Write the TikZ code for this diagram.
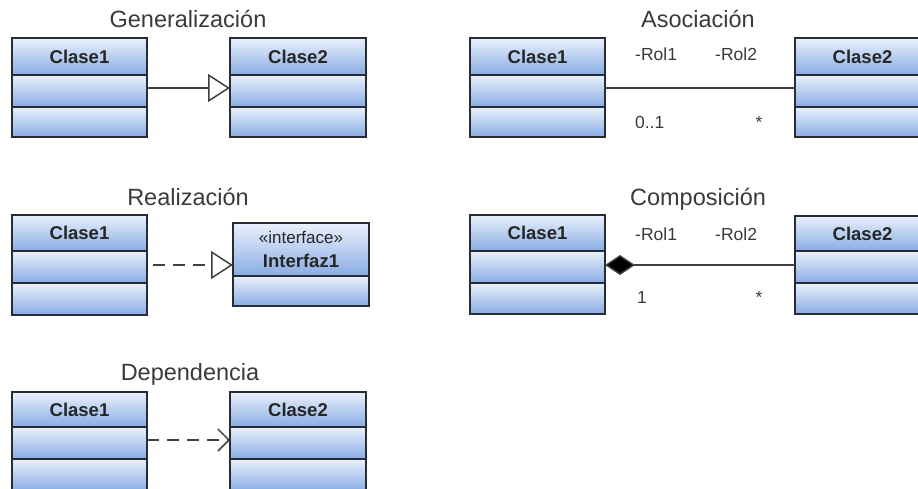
\documentclass[tikz,border=0pt]{standalone}
\usepackage{fontspec}
\setmainfont{Liberation Sans}
\usetikzlibrary{arrows.meta}

\definecolor{boxtop}{RGB}{234,241,252}
\definecolor{boxbot}{RGB}{136,172,228}
\definecolor{boxline}{RGB}{40,44,52}
\definecolor{conline}{RGB}{64,64,64}
\definecolor{txtgray}{RGB}{58,58,58}

\tikzset{
  compart/.style={draw=boxline, line width=1.3pt, top color=boxtop, bottom color=boxbot,
    inner sep=0pt, outer sep=0pt, text=black!85,
    font=\bfseries\fontsize{18.5}{20}\selectfont},
  heading/.style={anchor=base, text=txtgray, font=\fontsize{23.5}{26}\selectfont},
  endlabel/.style={anchor=base west, inner sep=0pt, text=txtgray, font=\fontsize{17.5}{20}\selectfont},
  connector/.style={draw=conline, line width=1.5pt},
  dashconn/.style={connector, dash pattern=on 12pt off 8pt},
  inherit/.style={-{Triangle[length=22pt, width=28pt, fill=white]}},
  depend/.style={-{Straight Barb[length=11pt, width=22pt]}},
  compose/.style={{Diamond[length=30pt, width=20pt, fill=black]}-},
}

% class box with three compartments: name, x, y, width, h1, h2, h3, title
\newcommand\classbox[8]{%
  \node[compart, anchor=north west, minimum width=#4pt, minimum height=#5pt] (#1a) at (#2,#3) {#8};
  \node[compart, anchor=north, minimum width=#4pt, minimum height=#6pt] (#1b) at (#1a.south) {};
  \node[compart, anchor=north, minimum width=#4pt, minimum height=#7pt] (#1c) at (#1b.south) {};
}

\begin{document}
\begin{tikzpicture}[x=1pt, y=-1pt]
\useasboundingbox (0,0) rectangle (918,488);
\clip (0,0) rectangle (918,488);

% Generalization
\node[heading] (tgen) at (188,27) {Generalización};
\classbox{ga}{12}{38}{135}{37}{32}{30}{Clase1}
\classbox{gb}{230}{38}{136}{37}{32}{30}{Clase2}
\draw[connector, inherit] ([yshift=3pt]gab.east) -- ([yshift=3pt]gbb.west);

% Association
\node[heading] (tasoc) at (698,27) {Asociación};
\classbox{aa}{470}{38}{135}{37}{32}{30}{Clase1}
\classbox{ab}{795}{38}{135}{37}{32}{30}{Clase2}
\draw[connector] ([yshift=3pt]aab.east) -- ([yshift=3pt]abb.west);
\node[endlabel] (arol1) at (635,60) {-Rol1};
\node[endlabel] (arol2) at (715,60) {-Rol2};
\node[endlabel] (amul1) at (635,128) {0..1};
\node[endlabel, anchor=base] (amul2) at (759,128) {*};

% Realization
\node[heading] (treal) at (188,205) {Realización};
\classbox{ra}{12}{215}{135}{36}{32}{32}{Clase1}
\node[compart, anchor=north west, minimum width=136pt, minimum height=53pt, align=center] (ria) at (233,223)
  {{\mdseries\fontsize{17}{20}\selectfont«interface»}\\[4pt]Interfaz1};
\node[compart, anchor=north, minimum width=136pt, minimum height=30pt] (rib) at (ria.south) {};
\draw[dashconn, inherit, shorten <=6pt] ([yshift=2pt]rab.east) -- ([yshift=2pt]rab.east -| ria.west);

% Composition
\node[heading] (tcomp) at (698,205) {Composición};
\classbox{ca}{470}{215}{135}{36}{32}{31}{Clase1}
\classbox{cb}{795}{216}{135}{35}{32}{31}{Clase2}
\draw[connector, compose] ([yshift=2pt]cab.east) -- ([yshift=2pt]cab.east -| cbb.west);
\node[endlabel] (crol1) at (635,240) {-Rol1};
\node[endlabel] (crol2) at (715,240) {-Rol2};
\node[endlabel] (cmul1) at (637,303) {1};
\node[endlabel, anchor=base] (cmul2) at (759,303) {*};

% Dependency
\node[heading] (tdep) at (190,380) {Dependencia};
\classbox{da}{12}{392}{135}{35}{32}{32}{Clase1}
\classbox{db}{230}{392}{136}{35}{32}{32}{Clase2}
\draw[dashconn, depend] ([yshift=3pt]dab.east) -- ([yshift=3pt]dbb.west);
\end{tikzpicture}
\end{document}
